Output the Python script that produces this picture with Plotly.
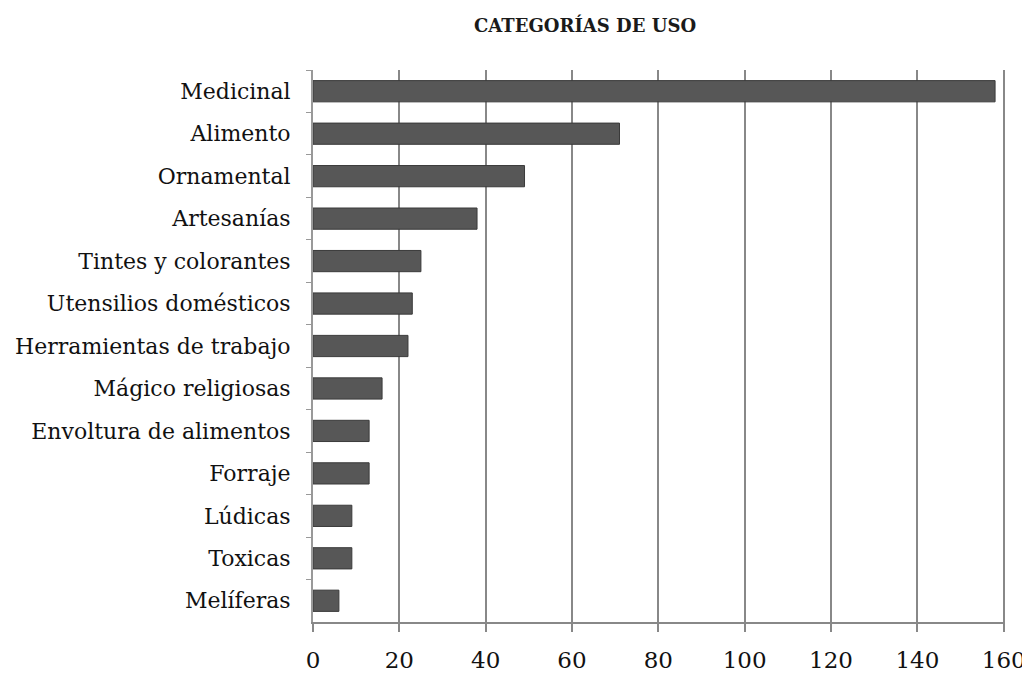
import plotly.graph_objects as go

categories = ["Medicinal", "Alimento", "Ornamental", "Artesanías", "Tintes y colorantes",
              "Utensilios domésticos", "Herramientas de trabajo", "Mágico religiosas",
              "Envoltura de alimentos", "Forraje", "Lúdicas", "Toxicas", "Melíferas"]
values = [158, 71, 49, 38, 25, 23, 22, 16, 13, 13, 9, 9, 6]
x_ticks = [0, 20, 40, 60, 80, 100, 120, 140, 160]
title_text = "CATEGORÍAS DE USO"

# page body has an 8px margin, so the figure is sized/offset accordingly
W, H = 1022, 671
L, R, T, B = 305, 25, 62, 57

fig = go.Figure(go.Bar(
    x=values, y=categories, orientation="h",
    marker=dict(color="#575757", line=dict(color="#3a3a3a", width=1)),
    width=0.5,
))

fig.update_layout(
    width=W, height=H,
    margin=dict(l=L, r=R, t=T, b=B, autoexpand=False),
    plot_bgcolor="white", paper_bgcolor="white",
    font=dict(family="DejaVu Serif", color="#111"),
    showlegend=False,
    annotations=[dict(text="<b>" + title_text + "</b>",
                      x=(577 - L) / (W - L - R), xref="paper",
                      y=1 + (T - 17) / (H - T - B), yref="paper",
                      xanchor="center", yanchor="middle", showarrow=False,
                      font=dict(size=18, family="DejaVu Serif", color="#1a1a1a"))],
)

fig.update_xaxes(
    range=[0, 160.3], tickvals=x_ticks, ticktext=[str(v) for v in x_ticks],
    showgrid=True, gridcolor="#888888", gridwidth=2,
    showline=True, linecolor="#888888", linewidth=2,
    ticks="outside", ticklen=8, tickcolor="#888888", tickwidth=2,
    ticklabeloverflow="allow", ticklabelstandoff=8,
    tickfont=dict(size=23, family="DejaVu Serif", color="#111"),
    zeroline=False, automargin=False,
)
fig.update_yaxes(
    autorange="reversed", showgrid=False,
    showline=True, linecolor="#999999", linewidth=2,
    ticks="outside", ticklen=5, tickcolor="#999999", tickson="boundaries",
    ticklabelstandoff=16, automargin=False,
    tickfont=dict(size=22, family="DejaVu Serif", color="#111"),
)

fig.write_html("out.html")
